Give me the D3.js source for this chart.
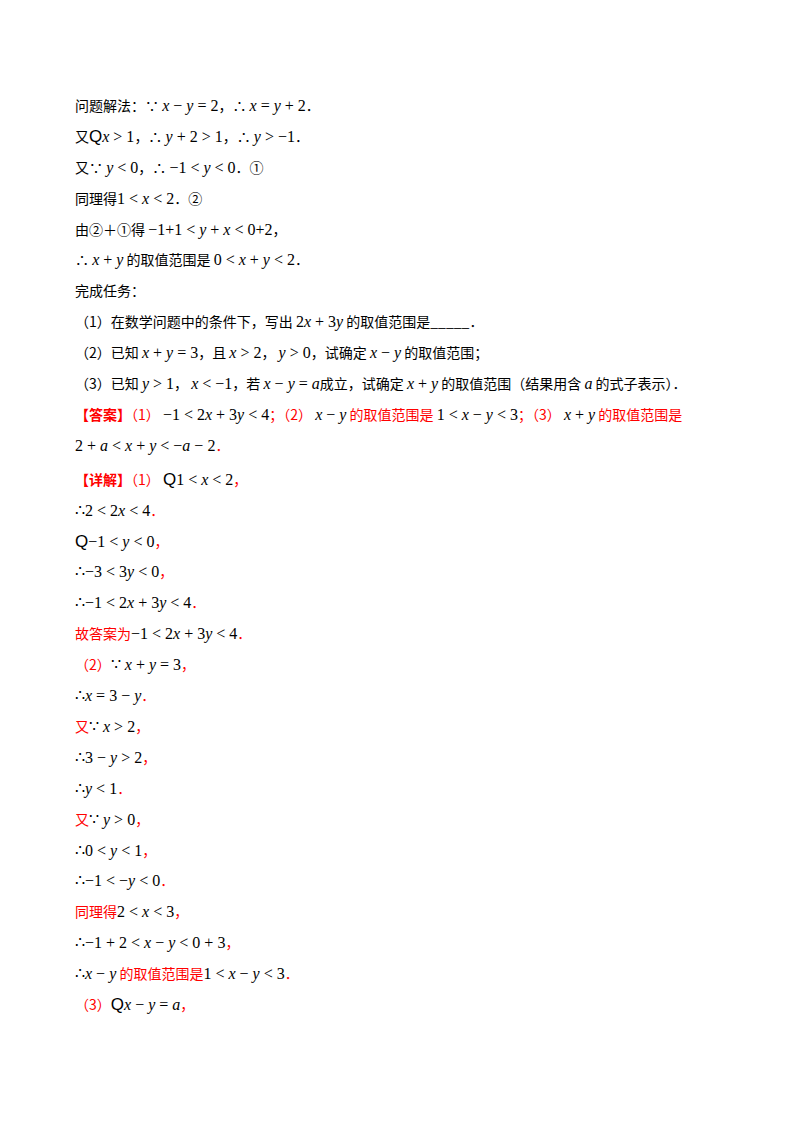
<!DOCTYPE html>
<html>
<head>
<meta charset="utf-8">
<script src="https://cdn.jsdelivr.net/npm/d3@7"></script>
<style>body{margin:0;background:#fff}</style>
</head>
<body>
<div id="page"></div>
<script>
// segment types: c = chinese black, m = math, r = red chinese, b = red bold, q = "Q" glyph
var block1 = [
  [["c","问题解法：∵ "],["m","x − y = 2"],["c","，∴ "],["m","x = y + 2"],["c","．"]],
  [["c","又"],["q","Q"],["m","x > 1"],["c","，∴ "],["m","y + 2 > 1"],["c","，∴ "],["m","y > −1"],["c","．"]],
  [["c","又∵ "],["m","y < 0"],["c","，∴ "],["m","−1 < y < 0"],["c","．①"]],
  [["c","同理得"],["m","1 < x < 2"],["c","．②"]],
  [["c","由②＋①得 "],["m","−1+1 < y + x < 0+2"],["c","，"]],
  [["c","∴ "],["m","x + y"],["c"," 的取值范围是 "],["m","0 < x + y < 2"],["c","．"]],
  [["c","完成任务："]],
  [["c","（1）在数学问题中的条件下，写出 "],["m","2x + 3y"],["c"," 的取值范围是_____．"]],
  [["c","（2）已知 "],["m","x + y = 3"],["c","，且 "],["m","x > 2"],["c","， "],["m","y > 0"],["c","，试确定 "],["m","x − y"],["c"," 的取值范围；"]],
  [["c","（3）已知 "],["m","y > 1"],["c","， "],["m","x < −1"],["c","，若 "],["m","x − y = a"],["c","成立，试确定 "],["m","x + y"],["c"," 的取值范围（结果用含 "],["m","a"],["c"," 的式子表示）．"]],
  [["b","【答案】"],["r","（1） "],["m","−1 < 2x + 3y < 4"],["r","；（2） "],["m","x − y"],["r"," 的取值范围是 "],["m","1 < x − y < 3"],["r","；（3） "],["m","x + y"],["r"," 的取值范围是"]],
  [["m","2 + a < x + y < −a − 2"],["r","．"]]
];
var block2 = [
  [["b","【详解】"],["r","（1） "],["q","Q"],["m","1 < x < 2"],["r","，"]],
  [["m","∴2 < 2x < 4"],["r","．"]],
  [["q","Q"],["m","−1 < y < 0"],["r","，"]],
  [["m","∴−3 < 3y < 0"],["r","，"]],
  [["m","∴−1 < 2x + 3y < 4"],["r","．"]],
  [["r","故答案为"],["m","−1 < 2x + 3y < 4"],["r","．"]],
  [["r","（2）"],["m","∵ x + y = 3"],["r","，"]],
  [["m","∴x = 3 − y"],["r","．"]],
  [["r","又"],["m","∵ x > 2"],["r","，"]],
  [["m","∴3 − y > 2"],["r","，"]],
  [["m","∴y < 1"],["r","．"]],
  [["r","又"],["m","∵ y > 0"],["r","，"]],
  [["m","∴0 < y < 1"],["r","，"]],
  [["m","∴−1 < −y < 0"],["r","．"]],
  [["r","同理得"],["m","2 < x < 3"],["r","，"]],
  [["m","∴−1 + 2 < x − y < 0 + 3"],["r","，"]],
  [["m","∴x − y"],["r"," 的取值范围是"],["m","1 < x − y < 3"],["r","．"]],
  [["r","（3）"],["q","Q"],["m","x − y = a"],["r","，"]]
];
var lines = block1.concat(block2);

var W = 800, H = 1132;
var svg = d3.select("#page").append("svg").attr("width", W).attr("height", H);
var y = d3.scaleLinear().domain([0, lines.length - 1]).range([111, 1007]);
var cjk = "'Noto Sans CJK SC', sans-serif", serif = "'Liberation Serif', 'DejaVu Serif', serif";

lines.forEach(function(line, i) {
  var t = svg.append("text").attr("x", 75).attr("y", y(i) + (i >= block1.length ? 3 : 0))
    .attr("fill", "#000");
  line.forEach(function(seg) {
    var type = seg[0], s = seg[1];
    if (type === "m") {
      // split into italic letters and upright rest
      s.split(/([a-z])/).forEach(function(p) {
        if (!p) return;
        var isVar = /^[a-z]$/.test(p);
        t.append("tspan").text(p).attr("font-family", serif).attr("font-size", 16)
          .attr("font-style", isVar ? "italic" : "normal").attr("xml:space", "preserve")
          .style("white-space", "pre");
      });
    } else if (type === "q") {
      t.append("tspan").text(s).attr("font-family", "'Liberation Sans', sans-serif")
        .attr("font-size", 17).attr("fill", "#000");
    } else {
      t.append("tspan").text(s).attr("font-family", cjk).attr("font-size", 14)
        .attr("fill", type === "c" ? "#000" : "#ff0000")
        .attr("font-weight", type === "b" ? "bold" : "normal")
        .style("white-space", "pre");
    }
  });
});
</script>
</body>
</html>
